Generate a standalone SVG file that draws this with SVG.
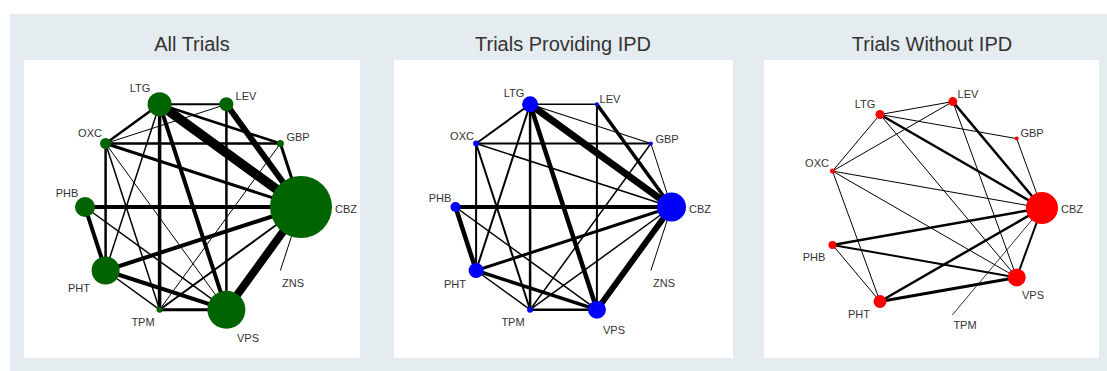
<svg xmlns="http://www.w3.org/2000/svg" width="1107" height="371" viewBox="0 0 1107 371">
<style>
.bg{fill:#e4ecef}
.panel{fill:#ffffff}
.title{font-family:"Liberation Sans",Arial,sans-serif;font-size:20px;fill:#333;text-anchor:middle}
.lbl{font-family:"Liberation Sans",Arial,sans-serif;font-size:11px;fill:#333;text-anchor:middle}
.e line{stroke:#000;stroke-linecap:butt}
.g{fill:#006400}
.b{fill:#0000ff}
.r{fill:#ff0000}
</style>
<rect class="bg" x="10" y="14" width="1097" height="357"/>
<rect class="panel" x="24" y="60" width="336" height="298"/>
<rect class="panel" x="394" y="60" width="339" height="298"/>
<rect class="panel" x="764" y="60" width="335" height="298"/>
<text class="title" x="192" y="51">All Trials</text>
<text class="title" x="563" y="51">Trials Providing IPD</text>
<text class="title" x="932" y="51">Trials Without IPD</text>

<!-- Panel 1 connectors -->
<g id="connectors-all" class="e">
<line x1="159.6" y1="104.3" x2="301" y2="207" stroke-width="9.5"/>
<line x1="159.6" y1="104.3" x2="226.4" y2="104.3" stroke-width="2"/>
<line x1="159.6" y1="104.3" x2="280.4" y2="143.5" stroke-width="2.5"/>
<line x1="159.6" y1="104.3" x2="105.6" y2="143.5" stroke-width="2.5"/>
<line x1="159.6" y1="104.3" x2="105.6" y2="270.5" stroke-width="1.5"/>
<line x1="159.6" y1="104.3" x2="159.6" y2="309.7" stroke-width="3.5"/>
<line x1="159.6" y1="104.3" x2="226.4" y2="309.7" stroke-width="4"/>
<line x1="226.4" y1="104.3" x2="301" y2="207" stroke-width="6"/>
<line x1="226.4" y1="104.3" x2="226.4" y2="309.7" stroke-width="2.5"/>
<line x1="105.6" y1="143.5" x2="226.4" y2="104.3" stroke-width="1"/>
<line x1="105.6" y1="143.5" x2="280.4" y2="143.5" stroke-width="2.5"/>
<line x1="105.6" y1="143.5" x2="301" y2="207" stroke-width="3"/>
<line x1="105.6" y1="143.5" x2="105.6" y2="270.5" stroke-width="2.5"/>
<line x1="105.6" y1="143.5" x2="159.6" y2="309.7" stroke-width="1.5"/>
<line x1="105.6" y1="143.5" x2="226.4" y2="309.7" stroke-width="1"/>
<line x1="280.4" y1="143.5" x2="301" y2="207" stroke-width="3"/>
<line x1="280.4" y1="143.5" x2="159.6" y2="309.7" stroke-width="1"/>
<line x1="85" y1="207" x2="301" y2="207" stroke-width="4"/>
<line x1="85" y1="207" x2="105.6" y2="270.5" stroke-width="4"/>
<line x1="85" y1="207" x2="226.4" y2="309.7" stroke-width="1.5"/>
<line x1="105.6" y1="270.5" x2="301" y2="207" stroke-width="4"/>
<line x1="105.6" y1="270.5" x2="226.4" y2="309.7" stroke-width="4"/>
<line x1="105.6" y1="270.5" x2="159.6" y2="309.7" stroke-width="1.5"/>
<line x1="159.6" y1="309.7" x2="226.4" y2="309.7" stroke-width="3"/>
<line x1="159.6" y1="309.7" x2="301" y2="207" stroke-width="2"/>
<line x1="226.4" y1="309.7" x2="301" y2="207" stroke-width="8"/>
<line x1="280.4" y1="270.5" x2="301" y2="207" stroke-width="1"/>
</g>
<g id="all-CBZ"><circle class="g" cx="301" cy="207" r="31"/><text class="lbl" x="346" y="213">CBZ</text></g>
<g id="all-GBP"><circle class="g" cx="280.4" cy="143.5" r="3.5"/><text class="lbl" x="298" y="141">GBP</text></g>
<g id="all-LEV"><circle class="g" cx="226.4" cy="104.3" r="7"/><text class="lbl" x="246" y="100">LEV</text></g>
<g id="all-LTG"><circle class="g" cx="159.6" cy="104.3" r="12"/><text class="lbl" x="140" y="92">LTG</text></g>
<g id="all-OXC"><circle class="g" cx="105.6" cy="143.5" r="5.5"/><text class="lbl" x="90" y="137">OXC</text></g>
<g id="all-PHB"><circle class="g" cx="85" cy="207" r="10"/><text class="lbl" x="67" y="197">PHB</text></g>
<g id="all-PHT"><circle class="g" cx="105.6" cy="270.5" r="14"/><text class="lbl" x="79" y="292">PHT</text></g>
<g id="all-TPM"><circle class="g" cx="159.6" cy="309.7" r="3"/><text class="lbl" x="143" y="326">TPM</text></g>
<g id="all-VPS"><circle class="g" cx="226.4" cy="309.7" r="19"/><text class="lbl" x="248" y="342">VPS</text></g>
<g id="all-ZNS"><text class="lbl" x="293" y="287">ZNS</text></g>

<!-- Panel 2 connectors -->
<g id="connectors-ipd" class="e">
<line x1="530.1" y1="104.3" x2="671.5" y2="207" stroke-width="7"/>
<line x1="530.1" y1="104.3" x2="596.9" y2="104.3" stroke-width="1.5"/>
<line x1="530.1" y1="104.3" x2="650.9" y2="143.5" stroke-width="1.2"/>
<line x1="530.1" y1="104.3" x2="476.1" y2="143.5" stroke-width="2"/>
<line x1="530.1" y1="104.3" x2="476.1" y2="270.5" stroke-width="2"/>
<line x1="530.1" y1="104.3" x2="530.1" y2="309.7" stroke-width="2.5"/>
<line x1="530.1" y1="104.3" x2="596.9" y2="309.7" stroke-width="4.5"/>
<line x1="596.9" y1="104.3" x2="671.5" y2="207" stroke-width="3.5"/>
<line x1="596.9" y1="104.3" x2="596.9" y2="309.7" stroke-width="2"/>
<line x1="476.1" y1="143.5" x2="650.9" y2="143.5" stroke-width="2"/>
<line x1="476.1" y1="143.5" x2="671.5" y2="207" stroke-width="1.5"/>
<line x1="476.1" y1="143.5" x2="476.1" y2="270.5" stroke-width="2"/>
<line x1="476.1" y1="143.5" x2="530.1" y2="309.7" stroke-width="2"/>
<line x1="650.9" y1="143.5" x2="671.5" y2="207" stroke-width="1"/>
<line x1="650.9" y1="143.5" x2="530.1" y2="309.7" stroke-width="1.5"/>
<line x1="455.5" y1="207" x2="671.5" y2="207" stroke-width="4"/>
<line x1="455.5" y1="207" x2="476.1" y2="270.5" stroke-width="4.5"/>
<line x1="455.5" y1="207" x2="596.9" y2="309.7" stroke-width="1.5"/>
<line x1="476.1" y1="270.5" x2="671.5" y2="207" stroke-width="3"/>
<line x1="476.1" y1="270.5" x2="596.9" y2="309.7" stroke-width="3.5"/>
<line x1="476.1" y1="270.5" x2="530.1" y2="309.7" stroke-width="1.5"/>
<line x1="530.1" y1="309.7" x2="596.9" y2="309.7" stroke-width="2.5"/>
<line x1="530.1" y1="309.7" x2="671.5" y2="207" stroke-width="1.5"/>
<line x1="596.9" y1="309.7" x2="671.5" y2="207" stroke-width="6"/>
<line x1="650.9" y1="270.5" x2="671.5" y2="207" stroke-width="1"/>
</g>
<g id="ipd-CBZ"><circle class="b" cx="671.5" cy="207" r="14.5"/><text class="lbl" x="700" y="213">CBZ</text></g>
<g id="ipd-GBP"><circle class="b" cx="650.9" cy="143.5" r="2"/><text class="lbl" x="667" y="143">GBP</text></g>
<g id="ipd-LEV"><circle class="b" cx="596.9" cy="104.3" r="2"/><text class="lbl" x="610" y="103">LEV</text></g>
<g id="ipd-LTG"><circle class="b" cx="530.1" cy="104.3" r="8"/><text class="lbl" x="514" y="97">LTG</text></g>
<g id="ipd-OXC"><circle class="b" cx="476.1" cy="143.5" r="3"/><text class="lbl" x="462" y="140">OXC</text></g>
<g id="ipd-PHB"><circle class="b" cx="455.5" cy="207" r="5"/><text class="lbl" x="440" y="202">PHB</text></g>
<g id="ipd-PHT"><circle class="b" cx="476.1" cy="270.5" r="7.5"/><text class="lbl" x="455" y="288">PHT</text></g>
<g id="ipd-TPM"><circle class="b" cx="530.1" cy="309.7" r="3"/><text class="lbl" x="513" y="326">TPM</text></g>
<g id="ipd-VPS"><circle class="b" cx="596.9" cy="309.7" r="9"/><text class="lbl" x="614" y="334">VPS</text></g>
<g id="ipd-ZNS"><text class="lbl" x="664" y="287">ZNS</text></g>

<!-- Panel 3 connectors -->
<g id="connectors-noipd" class="e">
<line x1="880" y1="114.5" x2="952.8" y2="101.6" stroke-width="1"/>
<line x1="880" y1="114.5" x2="1016.7" y2="138.6" stroke-width="1"/>
<line x1="880" y1="114.5" x2="1042" y2="208" stroke-width="2.5"/>
<line x1="880" y1="114.5" x2="1016.7" y2="277.4" stroke-width="1"/>
<line x1="880" y1="114.5" x2="832.5" y2="171.1" stroke-width="1"/>
<line x1="832.5" y1="171.1" x2="952.8" y2="101.6" stroke-width="1"/>
<line x1="832.5" y1="171.1" x2="1042" y2="208" stroke-width="1"/>
<line x1="832.5" y1="171.1" x2="1016.7" y2="277.4" stroke-width="1"/>
<line x1="832.5" y1="171.1" x2="880" y2="301.5" stroke-width="1"/>
<line x1="952.8" y1="101.6" x2="1042" y2="208" stroke-width="2.5"/>
<line x1="952.8" y1="101.6" x2="1016.7" y2="277.4" stroke-width="1"/>
<line x1="1016.7" y1="138.6" x2="1042" y2="208" stroke-width="1"/>
<line x1="832.5" y1="244.9" x2="1042" y2="208" stroke-width="2.5"/>
<line x1="832.5" y1="244.9" x2="1016.7" y2="277.4" stroke-width="2"/>
<line x1="832.5" y1="244.9" x2="880" y2="301.5" stroke-width="1"/>
<line x1="880" y1="301.5" x2="1042" y2="208" stroke-width="2.5"/>
<line x1="880" y1="301.5" x2="1016.7" y2="277.4" stroke-width="3"/>
<line x1="952.8" y1="314.4" x2="1042" y2="208" stroke-width="0.8"/>
<line x1="1016.7" y1="277.4" x2="1042" y2="208" stroke-width="2"/>
</g>
<g id="noipd-CBZ"><circle class="r" cx="1042" cy="208" r="16"/><text class="lbl" x="1072" y="213">CBZ</text></g>
<g id="noipd-GBP"><circle class="r" cx="1016.7" cy="138.6" r="2"/><text class="lbl" x="1032" y="137">GBP</text></g>
<g id="noipd-LEV"><circle class="r" cx="952.8" cy="101.6" r="4.5"/><text class="lbl" x="968" y="98">LEV</text></g>
<g id="noipd-LTG"><circle class="r" cx="880" cy="114.5" r="4.5"/><text class="lbl" x="865" y="108">LTG</text></g>
<g id="noipd-OXC"><circle class="r" cx="832.5" cy="171.1" r="2.5"/><text class="lbl" x="817" y="167">OXC</text></g>
<g id="noipd-PHB"><circle class="r" cx="832.5" cy="244.9" r="4"/><text class="lbl" x="814" y="261">PHB</text></g>
<g id="noipd-PHT"><circle class="r" cx="880" cy="301.5" r="6.5"/><text class="lbl" x="859" y="318">PHT</text></g>
<g id="noipd-TPM"><circle class="r" cx="952.8" cy="314.4" r="0.6"/><text class="lbl" x="965" y="329">TPM</text></g>
<g id="noipd-VPS"><circle class="r" cx="1016.7" cy="277.4" r="9"/><text class="lbl" x="1033" y="299">VPS</text></g>
</svg>
